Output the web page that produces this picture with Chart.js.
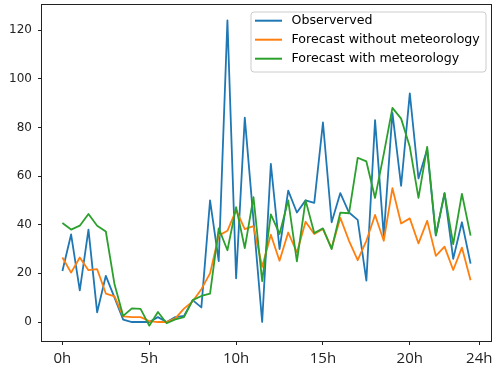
<!DOCTYPE html>
<html>
<head>
<meta charset="utf-8">
<script src="https://cdn.jsdelivr.net/npm/chart.js@4/dist/chart.umd.min.js"></script>
<style>
  html, body { margin: 0; padding: 0; background: #fff; }
  #chart { display: block; }
</style>
</head>
<body>
<canvas id="chart" width="492" height="373"></canvas>
<script>
// hours (half-hour steps)
const hours = [0, 0.5, 1, 1.5, 2, 2.5, 3, 3.5, 4, 4.5, 5, 5.5, 6, 6.5, 7, 7.5,
    8, 8.5, 9, 9.5, 10, 10.5, 11, 11.5, 12, 12.5, 13, 13.5, 14, 14.5, 15, 15.5,
    16, 16.5, 17, 17.5, 18, 18.5, 19, 19.5, 20, 20.5, 21, 21.5, 22, 22.5, 23, 23.5];

// series values
const observed = [21, 36, 13, 38, 4, 19, 10, 1, 0, 0, 0, 2, 0, 2, 2.5, 9,
    6, 50, 25, 124, 18, 84, 42, 0, 65, 30, 54, 45, 50, 49, 82, 41,
    53, 45, 42, 17, 83, 35.5, 86, 56, 94, 59, 71, 35.5, 53, 26, 41, 24];
const noMeteo = [26.5, 20.3, 26.5, 21.3, 21.7, 11.7, 10.5, 2.3, 2, 2, 0.4, 0, 0, 1.5, 5.5, 8.5,
    13.5, 20, 35.5, 37.5, 46, 38.2, 39.4, 22.7, 35.9, 25.2, 36.8, 28.6, 41.2, 36.2, 38.2, 30.4,
    42.8, 33.4, 25.4, 33.4, 44, 33.4, 55, 40.5, 42.6, 32.3, 41.6, 27.2, 31, 21.4, 30.6, 17.2];
const withMeteo = [40.7, 38, 39.6, 44.4, 39.6, 37.2, 15.5, 2.5, 5.6, 5.4, -1.5, 4.1, -0.5, 1.1, 2, 9,
    10.7, 11.7, 38.5, 29.5, 47.2, 30.4, 51.3, 16.8, 44.2, 36.2, 50, 24.9, 50, 36.6, 38.5, 30,
    45, 44.7, 67.5, 66, 51, 69, 88, 83.6, 72, 51, 72, 35.7, 53, 32, 52.7, 35.5];

// legend labels
const seriesNames = ["Observerved", "Forecast without meteorology", "Forecast with meteorology"];
const seriesColors = ["#1f77b4", "#ff7f0e", "#2ca02c"];

// tick labels
const xTickValues = [0, 5, 10, 15, 20, 24];
const xTickLabels = ["0h", "5h", "10h", "15h", "20h", "24h"];
const yTickValues = [0, 20, 40, 60, 80, 100, 120];

const toPoints = (vals) => vals.map((v, i) => ({ x: hours[i], y: v }));

// frame + legend drawn on top like matplotlib
const framePlugin = {
    id: "frame",
    afterDraw(chart) {
        const { ctx, chartArea: a } = chart;
        ctx.save();
        ctx.strokeStyle = "#222";
        ctx.lineWidth = 1;
        ctx.strokeRect(Math.round(a.left) - 0.5, Math.round(a.top) - 0.5,
            Math.round(a.right - a.left) + 1, Math.round(a.bottom - a.top) + 1);

        // legend box
        const bx = 251, by = 12, bw = 235, bh = 60, r = 3;
        ctx.beginPath();
        ctx.moveTo(bx + r, by);
        ctx.arcTo(bx + bw, by, bx + bw, by + bh, r);
        ctx.arcTo(bx + bw, by + bh, bx, by + bh, r);
        ctx.arcTo(bx, by + bh, bx, by, r);
        ctx.arcTo(bx, by, bx + bw, by, r);
        ctx.closePath();
        ctx.fillStyle = "rgba(255,255,255,0.8)";
        ctx.fill();
        ctx.strokeStyle = "#cccccc";
        ctx.stroke();

        ctx.font = "12.6px 'DejaVu Sans'";
        ctx.textBaseline = "middle";
        ctx.fillStyle = "#000";
        const rows = [20.7, 39.7, 58.7];
        seriesNames.forEach((name, i) => {
            ctx.beginPath();
            ctx.strokeStyle = seriesColors[i];
            ctx.lineWidth = 2;
            ctx.moveTo(255, rows[i]);
            ctx.lineTo(282, rows[i]);
            ctx.stroke();
            ctx.fillText(name, 291.5, rows[i] + 0.5);
        });
        ctx.restore();
    }
};

const line = (label, vals, color, order) => ({
    label: label,
    data: toPoints(vals),
    borderColor: color,
    backgroundColor: color,
    borderWidth: 1.8,
    pointRadius: 0,
    tension: 0,
    fill: false,
    borderJoinStyle: "round",
    order: order
});

new Chart(document.getElementById("chart"), {
    type: "line",
    data: {
        datasets: [
            line(seriesNames[0], observed, seriesColors[0], 2),
            line(seriesNames[1], noMeteo, seriesColors[1], 1),
            line(seriesNames[2], withMeteo, seriesColors[2], 0)
        ]
    },
    options: {
        responsive: false,
        animation: false,
        devicePixelRatio: 1,
        layout: { padding: { top: 5, right: 1, left: 0, bottom: 0 } },
        plugins: {
            legend: { display: false },
            tooltip: { enabled: false }
        },
        scales: {
            x: {
                type: "linear",
                min: -1.175,
                max: 24.675,
                afterBuildTicks: (scale) => {
                    scale.ticks = xTickValues.map(v => ({ value: v }));
                },
                afterFit: (scale) => {
                    scale.height = 32;
                    scale.paddingLeft = 0;
                    scale.paddingRight = 0;
                },
                grid: { drawOnChartArea: false, drawTicks: true, tickLength: 4, color: "#222" },
                border: { display: false },
                ticks: {
                    autoSkip: false,
                    maxRotation: 0,
                    padding: 5,
                    color: "#222",
                    font: { family: "'Open Sans'", size: 15 },
                    callback: (v) => xTickLabels[xTickValues.indexOf(v)]
                }
            },
            y: {
                min: -7.8,
                max: 130.3,
                afterBuildTicks: (scale) => {
                    scale.ticks = yTickValues.map(v => ({ value: v }));
                },
                afterFit: (scale) => {
                    scale.width = 42;
                    scale.paddingTop = 0;
                    scale.paddingBottom = 0;
                },
                grid: { drawOnChartArea: false, drawTicks: true, tickLength: 4, color: "#222" },
                border: { display: false },
                ticks: {
                    padding: 6,
                    color: "#222",
                    font: { family: "'DejaVu Sans'", size: 12 }
                }
            }
        }
    },
    plugins: [framePlugin]
});
</script>
</body>
</html>
